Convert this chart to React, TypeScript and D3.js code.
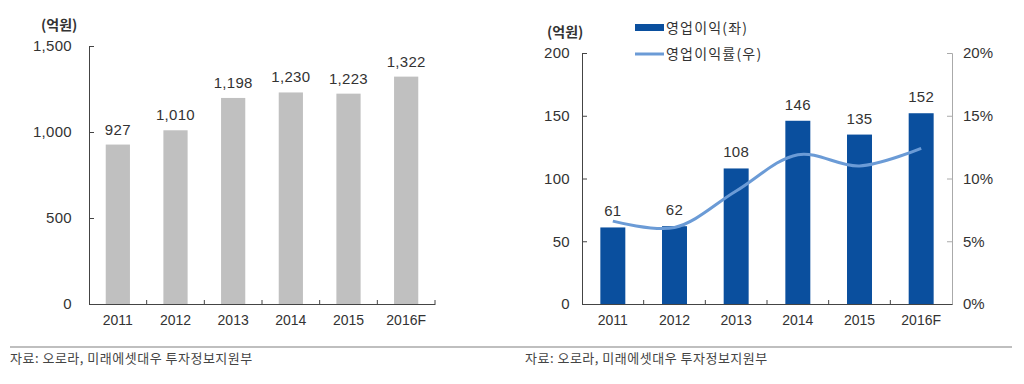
import * as d3 from "d3";
import { useEffect, useRef } from "react";

const years = ["2011", "2012", "2013", "2014", "2015", "2016F"];
const sales = [927, 1010, 1198, 1230, 1223, 1322];
const opProfit = [61, 62, 108, 146, 135, 152];
const opMargin = [6.6, 6.1, 9.0, 11.9, 11.0, 12.4];
const salesTicks = [0, 500, 1000, 1500];
const profitTicks = [0, 50, 100, 150, 200];
const marginTicks = [0, 5, 10, 15, 20];
const unitLabel = "(억원)";
const legendLabels = ["영업이익(좌)", "영업이익률(우)"];
const sourceText = "자료: 오로라, 미래에셋대우 투자정보지원부";

const FONT = "'Liberation Sans', Arial, 'Noto Sans CJK KR', sans-serif";
const KFONT = "'Noto Sans CJK KR', 'Liberation Sans', sans-serif";

const App = () => {
  const ref = useRef<SVGSVGElement>(null);

  useEffect(() => {
    const svg = d3.select(ref.current);
    svg.selectAll("*").remove();
    const fmt = d3.format(",");

    // ---------- left chart: sales ----------
    const lx = d3.scaleBand().domain(years).range([89, 435]).padding(0);
    const ly = d3.scaleLinear().domain([0, 1500]).range([304, 46]);
    const lbw = lx.bandwidth() * 0.42;

    const left = svg.append("g");

    left.selectAll("rect")
      .data(sales)
      .enter()
      .append("rect")
      .attr("x", (d, i) => lx(years[i])! + (lx.bandwidth() - lbw) / 2)
      .attr("y", d => ly(d))
      .attr("width", lbw)
      .attr("height", d => ly(0) - ly(d))
      .style("fill", "#c0c0c0");

    left.selectAll(".val")
      .data(sales)
      .enter()
      .append("text")
      .attr("x", (d, i) => lx(years[i])! + lx.bandwidth() / 2)
      .attr("y", d => ly(d) - 10)
      .attr("text-anchor", "middle")
      .style("font", `15px ${FONT}`)
      .style("letter-spacing", "0.3px")
      .style("fill", "#333")
      .text(d => fmt(d));

    const lAxisY = d3.axisLeft(ly).tickValues(salesTicks).tickSize(-5).tickPadding(17)
      .tickFormat(d => fmt(d as number));
    const gly = left.append("g").attr("transform", "translate(89,0)").call(lAxisY);
    gly.selectAll("text").style("font", `15px ${FONT}`).style("letter-spacing", "0.3px").style("fill", "#333");
    gly.selectAll("line,path").style("stroke", "#444");

    const lAxisX = d3.axisBottom(lx).tickSize(0).tickPadding(11);
    const glx = left.append("g").attr("transform", "translate(0,304)").call(lAxisX);
    glx.selectAll("text").style("font", `14px ${FONT}`).style("fill", "#333");
    glx.select("path").style("stroke", "#444");
    glx.selectAll(".bnd")
      .data(years)
      .enter()
      .append("line")
      .attr("x1", d => lx(d)! + lx.bandwidth())
      .attr("x2", d => lx(d)! + lx.bandwidth())
      .attr("y1", 0)
      .attr("y2", -4)
      .style("stroke", "#444");

    left.append("text")
      .attr("x", 41).attr("y", 30)
      .style("font", `bold 14px ${KFONT}`)
      .style("fill", "#333")
      .text(unitLabel);

    // ---------- right chart: operating profit ----------
    const rx = d3.scaleBand().domain(years).range([582, 952]).padding(0);
    const ry = d3.scaleLinear().domain([0, 200]).range([304, 53]);
    const ry2 = d3.scaleLinear().domain([0, 20]).range([304, 53]);
    const rbw = rx.bandwidth() * 0.405;

    const right = svg.append("g");

    right.selectAll("rect")
      .data(opProfit)
      .enter()
      .append("rect")
      .attr("x", (d, i) => rx(years[i])! + (rx.bandwidth() - rbw) / 2)
      .attr("y", d => ry(d))
      .attr("width", rbw)
      .attr("height", d => ry(0) - ry(d))
      .style("fill", "#0a4f9e");

    right.selectAll(".val")
      .data(opProfit)
      .enter()
      .append("text")
      .attr("x", (d, i) => rx(years[i])! + rx.bandwidth() / 2)
      .attr("y", d => ry(d) - 11)
      .attr("text-anchor", "middle")
      .style("font", `15px ${FONT}`)
      .style("letter-spacing", "0.3px")
      .style("fill", "#333")
      .text(d => d);

    const line = d3.line<number>()
      .x((d, i) => rx(years[i])! + rx.bandwidth() / 2)
      .y(d => ry2(d))
      .curve(d3.curveCatmullRom.alpha(0.5));

    right.append("path")
      .datum(opMargin)
      .attr("d", line)
      .style("fill", "none")
      .style("stroke", "#6b9bd6")
      .style("stroke-width", 3);

    const rAxisY = d3.axisLeft(ry).tickValues(profitTicks).tickSize(-5).tickPadding(12);
    const gry = right.append("g").attr("transform", "translate(582,0)").call(rAxisY);
    gry.selectAll("text").style("font", `15px ${FONT}`).style("letter-spacing", "0.3px").style("fill", "#333");
    gry.selectAll("line,path").style("stroke", "#444");

    const rAxisY2 = d3.axisRight(ry2).tickValues(marginTicks).tickSize(-5).tickPadding(11)
      .tickFormat(d => `${d}%`);
    const gry2 = right.append("g").attr("transform", "translate(952,0)").call(rAxisY2);
    gry2.selectAll("text").style("font", `15px ${FONT}`).style("fill", "#333");
    gry2.selectAll("line,path").style("stroke", "#aaa");

    const rAxisX = d3.axisBottom(rx).tickSize(0).tickPadding(11);
    const grx = right.append("g").attr("transform", "translate(0,304)").call(rAxisX);
    grx.selectAll("text").style("font", `14px ${FONT}`).style("fill", "#333");
    grx.select("path").style("stroke", "#444");
    grx.selectAll(".bnd")
      .data(years.slice(0, -1))
      .enter()
      .append("line")
      .attr("x1", d => rx(d)! + rx.bandwidth())
      .attr("x2", d => rx(d)! + rx.bandwidth())
      .attr("y1", 0)
      .attr("y2", -4)
      .style("stroke", "#444");

    right.append("text")
      .attr("x", 547).attr("y", 37)
      .style("font", `bold 14px ${KFONT}`)
      .style("fill", "#333")
      .text(unitLabel);

    // legend
    const lg = right.append("g").attr("transform", "translate(635,0)");
    lg.append("rect").attr("x", 0).attr("y", 24).attr("width", 29).attr("height", 7).style("fill", "#0a4f9e");
    lg.append("line").attr("x1", 0).attr("x2", 29).attr("y1", 54).attr("y2", 54)
      .style("stroke", "#6b9bd6").style("stroke-width", 3);
    lg.selectAll(".lt")
      .data(legendLabels)
      .enter()
      .append("text")
      .attr("x", 31)
      .attr("y", (d, i) => 33 + i * 26)
      .style("font", `14px ${KFONT}`)
      .style("letter-spacing", "1.2px")
      .style("fill", "#333")
      .text(d => d);

    // ---------- footer ----------
    svg.append("line")
      .attr("x1", 10).attr("x2", 1012).attr("y1", 347).attr("y2", 347)
      .style("stroke", "#aaa").style("stroke-width", 1.5);
    svg.selectAll(".src")
      .data([10, 525])
      .enter()
      .append("text")
      .attr("x", d => d)
      .attr("y", 363)
      .style("font", `13px ${KFONT}`)
      .style("letter-spacing", "0.5px")
      .style("fill", "#444")
      .text(sourceText);
  }, []);

  return (
    <svg
      ref={ref}
      width={1024}
      height={384}
      style={{ position: "absolute", left: 0, top: 0, background: "#fff" }}
    />
  );
};

export default App;
